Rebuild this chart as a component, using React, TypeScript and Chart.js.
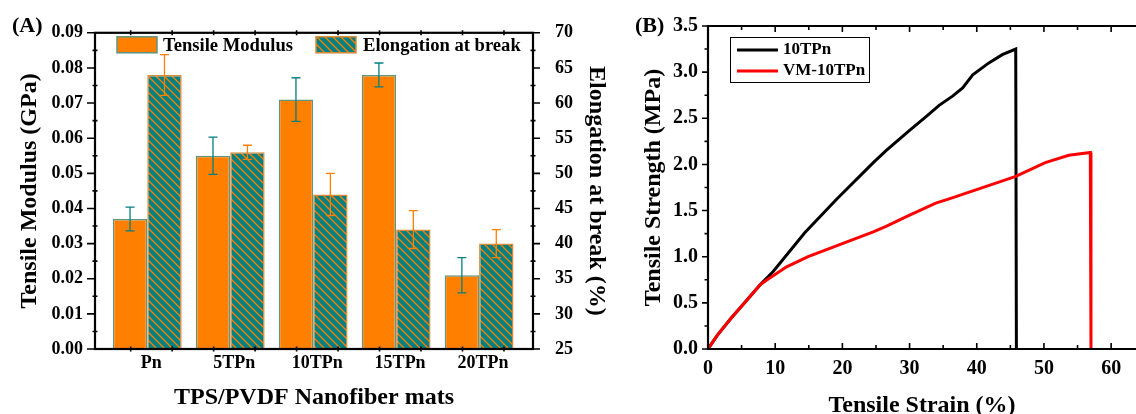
import React, { useEffect, useRef } from 'react';
import { Chart, registerables } from 'chart.js';

Chart.register(...registerables);

// ---------- data (A) ----------
const categories = ['Pn', '5TPn', '10TPn', '15TPn', '20TPn'];
const modulus = [0.037, 0.055, 0.071, 0.078, 0.021];
const modulusErr = [0.0034, 0.0053, 0.0062, 0.0034, 0.005];
const elongation = [64, 53, 47, 42, 40];
const elongationErr = [2.9, 1.0, 3.0, 2.7, 2.0];
const modulusTicks = [0, 0.01, 0.02, 0.03, 0.04, 0.05, 0.06, 0.07, 0.08, 0.09];
const elongationTicks = [25, 30, 35, 40, 45, 50, 55, 60, 65, 70];
const groupTickMarks = [0.8, 1.3, 1.8, 2.3, 2.8, 3.3, 3.8, 4.3, 4.8, 5.3];

// ---------- data (B) ----------
const strain10TPn = [0, 1.4, 3.4, 5.8, 7.8, 9.7, 14.4, 19.1, 24.6, 26.5, 30.0, 32.5, 34.4, 36.4, 37.9, 39.4, 41.8, 43.8, 45.8, 45.9];
const stress10TPn = [0, 0.15, 0.33, 0.53, 0.70, 0.84, 1.26, 1.62, 2.02, 2.15, 2.37, 2.52, 2.64, 2.74, 2.83, 2.97, 3.10, 3.19, 3.25, 0];
const strainVM = [0, 1.4, 3.4, 5.8, 7.8, 8.8, 11.7, 14.9, 19.6, 24.6, 26.5, 30.0, 33.9, 36.0, 41.3, 45.8, 50.2, 53.7, 56.9, 57.0];
const stressVM = [0, 0.15, 0.33, 0.53, 0.70, 0.75, 0.89, 1.00, 1.13, 1.27, 1.33, 1.45, 1.58, 1.63, 1.76, 1.87, 2.02, 2.10, 2.13, 0];
const stressTicks = [0, 0.5, 1.0, 1.5, 2.0, 2.5, 3.0, 3.5];
const strainTicks = [0, 10, 20, 30, 40, 50, 60];

const FONT = "'Liberation Serif', 'Times New Roman', serif";
const ORANGE = '#FF8000';
const TEAL = '#008080';

function makeHatch(): CanvasPattern | string {
  const c = document.createElement('canvas');
  c.width = 8;
  c.height = 8;
  const g = c.getContext('2d');
  if (!g) return TEAL;
  g.fillStyle = TEAL;
  g.fillRect(0, 0, 8, 8);
  g.strokeStyle = ORANGE;
  g.lineWidth = 1.3;
  g.beginPath();
  g.moveTo(-2, -2); g.lineTo(10, 10);
  g.moveTo(-2, 6); g.lineTo(2, 10);
  g.moveTo(6, -2); g.lineTo(10, 2);
  g.stroke();
  return g.createPattern(c, 'repeat') || TEAL;
}

function setTicks(values: number[]) {
  return (s: any) => {
    s.ticks = values.map((v) => ({ value: v }));
  };
}

function midpoints(values: number[]) {
  const out: number[] = [];
  for (let i = 0; i < values.length - 1; i++) out.push((values[i] + values[i + 1]) / 2);
  return out;
}

function tickMarks(chart: any, id: string, values: number[], inLen: number, outLen: number, mirrorTop = false) {
  const { ctx, chartArea: a } = chart;
  const s = chart.scales[id];
  ctx.save();
  ctx.strokeStyle = '#000';
  ctx.lineWidth = 1.6;
  ctx.beginPath();
  for (const v of values) {
    const p = s.getPixelForValue(v);
    if (s.isHorizontal()) {
      ctx.moveTo(p, a.bottom - inLen);
      ctx.lineTo(p, a.bottom + outLen);
      if (mirrorTop) {
        ctx.moveTo(p, a.top + inLen);
        ctx.lineTo(p, a.top - outLen);
      }
    } else {
      const left = s.position === 'left';
      const x0 = left ? a.left : a.right;
      const dir = left ? -1 : 1;
      ctx.moveTo(x0 - dir * inLen, p);
      ctx.lineTo(x0 + dir * outLen, p);
    }
  }
  ctx.stroke();
  ctx.restore();
}

const errorBarPlugin = {
  id: 'errorBars',
  afterDatasetsDraw(chart: any) {
    const { ctx } = chart;
    chart.data.datasets.forEach((ds: any, di: number) => {
      const meta = chart.getDatasetMeta(di);
      const ys = chart.scales[ds.yAxisID];
      meta.data.forEach((bar: any, i: number) => {
        const v = ds.data[i].y;
        const e = ds.errors[i];
        const yTop = ys.getPixelForValue(v + e);
        const yBot = ys.getPixelForValue(v - e);
        ctx.save();
        ctx.strokeStyle = ds.errorColor;
        ctx.lineWidth = 1.3;
        ctx.beginPath();
        ctx.moveTo(bar.x, yTop); ctx.lineTo(bar.x, yBot);
        ctx.moveTo(bar.x - 4.5, yTop); ctx.lineTo(bar.x + 4.5, yTop);
        ctx.moveTo(bar.x - 4.5, yBot); ctx.lineTo(bar.x + 4.5, yBot);
        ctx.stroke();
        ctx.restore();
      });
    });
  },
};

const decorA = {
  id: 'decorA',
  afterDraw(chart: any) {
    const { ctx, chartArea: a } = chart;
    ctx.save();
    ctx.strokeStyle = '#000';
    ctx.lineWidth = 2.2;
    ctx.strokeRect(a.left, a.top, a.right - a.left, a.bottom - a.top);
    ctx.restore();
    tickMarks(chart, 'y', modulusTicks, 0, 8);
    tickMarks(chart, 'y', midpoints(modulusTicks), 2.5, 2.5);
    tickMarks(chart, 'y1', elongationTicks, 0, 7);
    tickMarks(chart, 'y1', midpoints(elongationTicks), 2.5, 2.5);
    tickMarks(chart, 'x', groupTickMarks, 2.5, 2.5, true);

    // legend
    const ds = chart.data.datasets;
    const pos = [{ bx: a.left + 22, tx: a.left + 68 }, { bx: a.left + 221, tx: a.left + 268 }];
    ctx.save();
    ds.forEach((d: any, i: number) => {
      ctx.fillStyle = d.backgroundColor;
      ctx.fillRect(pos[i].bx, a.top + 4, 40, 16);
      ctx.strokeStyle = d.borderColor;
      ctx.lineWidth = 1.5;
      ctx.strokeRect(pos[i].bx, a.top + 4, 40, 16);
      ctx.fillStyle = '#000';
      ctx.font = `bold 18.6px ${FONT}`;
      ctx.textBaseline = 'middle';
      ctx.textAlign = 'left';
      ctx.fillText(d.label, pos[i].tx, a.top + 13);
    });
    ctx.font = `bold 22px ${FONT}`;
    ctx.fillText('(A)', 12, 26);
    ctx.restore();
  },
};

const decorB = {
  id: 'decorB',
  afterDraw(chart: any) {
    const { ctx, chartArea: a } = chart;
    ctx.save();
    ctx.strokeStyle = '#000';
    ctx.lineWidth = 2.2;
    ctx.beginPath();
    ctx.moveTo(a.right + 2, a.top);
    ctx.lineTo(a.left, a.top);
    ctx.lineTo(a.left, a.bottom);
    ctx.lineTo(a.right + 2, a.bottom);
    ctx.stroke();
    ctx.restore();
    tickMarks(chart, 'y', stressTicks, 0, 6);
    tickMarks(chart, 'y', midpoints(stressTicks), 0, 3.5);
    tickMarks(chart, 'x', strainTicks, 6, 0, true);
    tickMarks(chart, 'x', midpoints(strainTicks).concat([65]), 4, 0, true);

    // legend
    const ds = chart.data.datasets;
    const lx = a.left + 22;
    const ly = a.top + 11;
    ctx.save();
    ctx.strokeStyle = '#000';
    ctx.lineWidth = 1;
    ctx.strokeRect(lx + 0.5, ly + 0.5, 139, 45);
    ds.forEach((d: any, i: number) => {
      const y = ly + 13 + i * 21;
      ctx.strokeStyle = d.borderColor;
      ctx.lineWidth = 3;
      ctx.beginPath();
      ctx.moveTo(lx + 7, y);
      ctx.lineTo(lx + 48, y);
      ctx.stroke();
      ctx.fillStyle = '#000';
      ctx.font = `bold 17px ${FONT}`;
      ctx.textBaseline = 'middle';
      ctx.textAlign = 'left';
      ctx.fillText(d.label, lx + 53, y);
    });
    ctx.font = `bold 22px ${FONT}`;
    ctx.fillText('(B)', 15, 26);
    ctx.restore();
  },
};

const titleFont = { family: FONT, size: 24, weight: 'bold' as const };

export default function App() {
  const refA = useRef<HTMLCanvasElement>(null);
  const refB = useRef<HTMLCanvasElement>(null);

  useEffect(() => {
    const hatch = makeHatch();
    const chartA = new Chart(refA.current as HTMLCanvasElement, {
      type: 'bar',
      data: {
        datasets: [
          {
            label: 'Tensile Modulus',
            data: categories.map((_, i) => ({ x: i + 1, y: modulus[i] })),
            yAxisID: 'y',
            backgroundColor: ORANGE,
            borderColor: '#5f9583',
            borderWidth: 1.5,
            errors: modulusErr,
            errorColor: TEAL,
          } as any,
          {
            label: 'Elongation at break',
            data: categories.map((_, i) => ({ x: i + 1, y: elongation[i] })),
            yAxisID: 'y1',
            backgroundColor: hatch,
            borderColor: '#d9893a',
            borderWidth: 1.5,
            errors: elongationErr,
            errorColor: ORANGE,
          } as any,
        ],
      },
      options: {
        responsive: false,
        animation: false,
        layout: { padding: { top: 25, left: 0, right: 0, bottom: 0 } },
        plugins: { legend: { display: false }, tooltip: { enabled: false } },
        datasets: { bar: { categoryPercentage: 0.83, barPercentage: 1 } },
        scales: {
          x: {
            type: 'linear',
            offset: false,
            min: 0.37,
            max: 5.65,
            afterBuildTicks: setTicks(categories.map((_, i) => i + 1)),
            afterFit: (s: any) => { s.height = 65; },
            grid: { display: false, drawTicks: false, offset: false },
            border: { display: false },
            ticks: {
              callback: (v: any) => categories[Math.round(v) - 1],
              font: { family: FONT, size: 18, weight: 'bold' },
              color: '#000',
              padding: 4,
              labelOffset: 4,
              maxRotation: 0,
            },
            title: {
              display: true,
              text: 'TPS/PVDF Nanofiber mats',
              font: titleFont,
              color: '#000',
              padding: { top: 0, bottom: 2 },
            },
          },
          y: {
            position: 'left',
            min: 0,
            max: 0.09,
            afterBuildTicks: setTicks(modulusTicks),
            afterFit: (s: any) => { s.width = 95; },
            grid: { display: false, drawTicks: false },
            border: { display: false },
            ticks: {
              callback: (v: any) => Number(v).toFixed(2),
              font: { family: FONT, size: 18, weight: 'bold' },
              color: '#000',
              padding: 12,
            },
            title: {
              display: true,
              text: 'Tensile Modulus (GPa)',
              font: titleFont,
              color: '#000',
              padding: { top: 15, bottom: 0 },
            },
          },
          y1: {
            position: 'right',
            min: 25,
            max: 70,
            afterBuildTicks: setTicks(elongationTicks),
            afterFit: (s: any) => { s.width = 87; },
            grid: { display: false, drawTicks: false },
            border: { display: false },
            ticks: {
              callback: (v: any) => String(v),
              font: { family: FONT, size: 18, weight: 'bold' },
              color: '#000',
              padding: 22,
            },
            title: {
              display: true,
              text: 'Elongation at break (%)',
              font: titleFont,
              color: '#000',
              padding: { top: 9, bottom: 0 },
            },
          },
        },
      } as any,
      plugins: [errorBarPlugin, decorA],
    });

    const chartB = new Chart(refB.current as HTMLCanvasElement, {
      type: 'scatter',
      data: {
        datasets: [
          {
            label: '10TPn',
            data: strain10TPn.map((x, i) => ({ x, y: stress10TPn[i] })),
            borderColor: '#000000',
            backgroundColor: '#000000',
            showLine: true,
            borderWidth: 3,
            pointRadius: 0,
            order: 1,
          },
          {
            label: 'VM-10TPn',
            data: strainVM.map((x, i) => ({ x, y: stressVM[i] })),
            borderColor: '#FF0000',
            backgroundColor: '#FF0000',
            showLine: true,
            borderWidth: 3,
            pointRadius: 0,
            order: 0,
          },
        ],
      },
      options: {
        responsive: false,
        animation: false,
        layout: { padding: { top: 26, left: 0, right: 0, bottom: 0 } },
        plugins: { legend: { display: false }, tooltip: { enabled: false } },
        scales: {
          x: {
            type: 'linear',
            min: 0,
            max: 63.7,
            afterBuildTicks: setTicks(strainTicks),
            afterFit: (s: any) => { s.height = 65; },
            grid: { display: false, drawTicks: false },
            border: { display: false },
            ticks: {
              callback: (v: any) => String(v),
              font: { family: FONT, size: 20, weight: 'bold' },
              color: '#000',
              padding: 8,
              maxRotation: 0,
            },
            title: {
              display: true,
              text: 'Tensile Strain (%)',
              font: titleFont,
              color: '#000',
              padding: { top: 0, bottom: -6 },
            },
          },
          y: {
            position: 'left',
            min: 0,
            max: 3.5,
            afterBuildTicks: setTicks(stressTicks),
            afterFit: (s: any) => { s.width = 88; },
            grid: { display: false, drawTicks: false },
            border: { display: false },
            ticks: {
              callback: (v: any) => Number(v).toFixed(1),
              font: { family: FONT, size: 20, weight: 'bold' },
              color: '#000',
              padding: 10,
            },
            title: {
              display: true,
              text: 'Tensile Strength (MPa)',
              font: titleFont,
              color: '#000',
              padding: { top: 19, bottom: 0 },
            },
          },
        },
      } as any,
      plugins: [decorB],
    });

    return () => {
      chartA.destroy();
      chartB.destroy();
    };
  }, []);

  return (
    <div style={{ position: 'absolute', left: 0, top: 0, width: 1136, height: 414, overflow: 'hidden', background: '#fff' }}>
      <canvas ref={refA} width={620} height={414} style={{ position: 'absolute', left: 0, top: 0, width: 620, height: 414 }} />
      <canvas ref={refB} width={516} height={414} style={{ position: 'absolute', left: 620, top: 0, width: 516, height: 414 }} />
    </div>
  );
}
